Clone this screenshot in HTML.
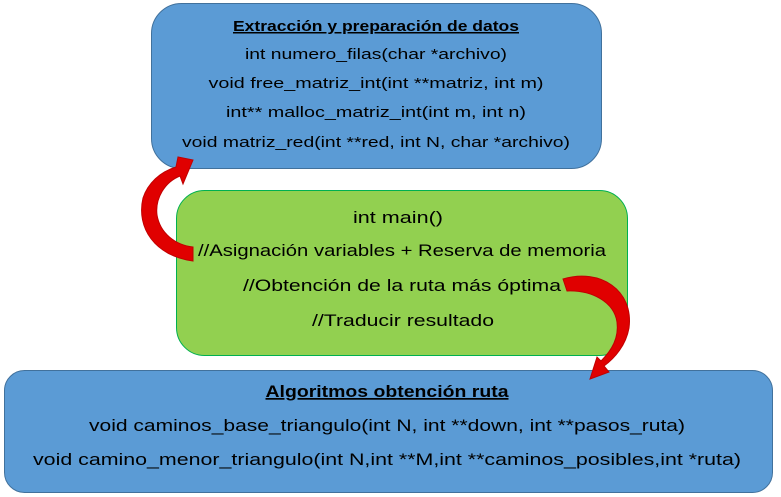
<!DOCTYPE html>
<html><head><meta charset="utf-8"><style>
body{margin:0;background:#fff;}
svg{display:block;}
text{font-family:"Liberation Sans",sans-serif;fill:#000;}
</style></head><body>
<svg width="781" height="497" viewBox="0 0 781 497">
<rect x="151.5" y="3.5" width="450" height="165" rx="30" fill="#5b9bd5" stroke="#41719c" stroke-width="1"/>
<rect x="176.5" y="190.5" width="451" height="165" rx="28" fill="#92d050" stroke="#00b050" stroke-width="1"/>
<rect x="4.5" y="370.5" width="768" height="122" rx="20" fill="#5b9bd5" stroke="#41719c" stroke-width="1"/>

<g font-size="15" text-anchor="middle">
<text x="376" y="31" font-weight="bold" text-decoration="underline" textLength="286" lengthAdjust="spacingAndGlyphs">Extracción y preparación de datos</text>
<text x="376" y="59" textLength="262" lengthAdjust="spacingAndGlyphs">int numero_filas(char *archivo)</text>
<text x="376" y="88" textLength="335" lengthAdjust="spacingAndGlyphs">void free_matriz_int(int **matriz, int m)</text>
<text x="376" y="117" textLength="300" lengthAdjust="spacingAndGlyphs">int** malloc_matriz_int(int m, int n)</text>
<text x="376" y="147" textLength="388" lengthAdjust="spacingAndGlyphs">void matriz_red(int **red, int N, char *archivo)</text>
</g>

<g font-size="17" text-anchor="middle">
<text x="398" y="223" textLength="90" lengthAdjust="spacingAndGlyphs">int main()</text>
<text x="402" y="256" textLength="408" lengthAdjust="spacingAndGlyphs">//Asignación variables + Reserva de memoria</text>
<text x="402" y="291" textLength="318" lengthAdjust="spacingAndGlyphs">//Obtención de la ruta más óptima</text>
<text x="403" y="326" textLength="182" lengthAdjust="spacingAndGlyphs">//Traducir resultado</text>
</g>

<g font-size="17" text-anchor="middle">
<text x="387" y="397" font-weight="bold" text-decoration="underline" textLength="243" lengthAdjust="spacingAndGlyphs">Algoritmos obtención ruta</text>
<text x="387" y="431" textLength="596" lengthAdjust="spacingAndGlyphs">void caminos_base_triangulo(int N, int **down, int **pasos_ruta)</text>
<text x="387" y="465" textLength="708" lengthAdjust="spacingAndGlyphs">void camino_menor_triangulo(int N,int **M,int **caminos_posibles,int *ruta)</text>
</g>

<path d="M193,247 L193,261 C155,256 136,228 143,198 C148,183 160,172 176,167 L178,157 L193,160 L183,184 L180,176 C165,182 155,198 157,215 C160,233 175,245 193,247 Z" fill="#e00000" stroke="#c00000" stroke-width="1"/>
<path d="M563,279 C600,268 634,290 629,328 C626,345 615,358 604,366 L609,372 L590,379 L597,357 L601,361 C612,350 619,338 617,322 C614,302 592,290 567,291 Z" fill="#e00000" stroke="#c00000" stroke-width="1"/>
</svg>
</body></html>
